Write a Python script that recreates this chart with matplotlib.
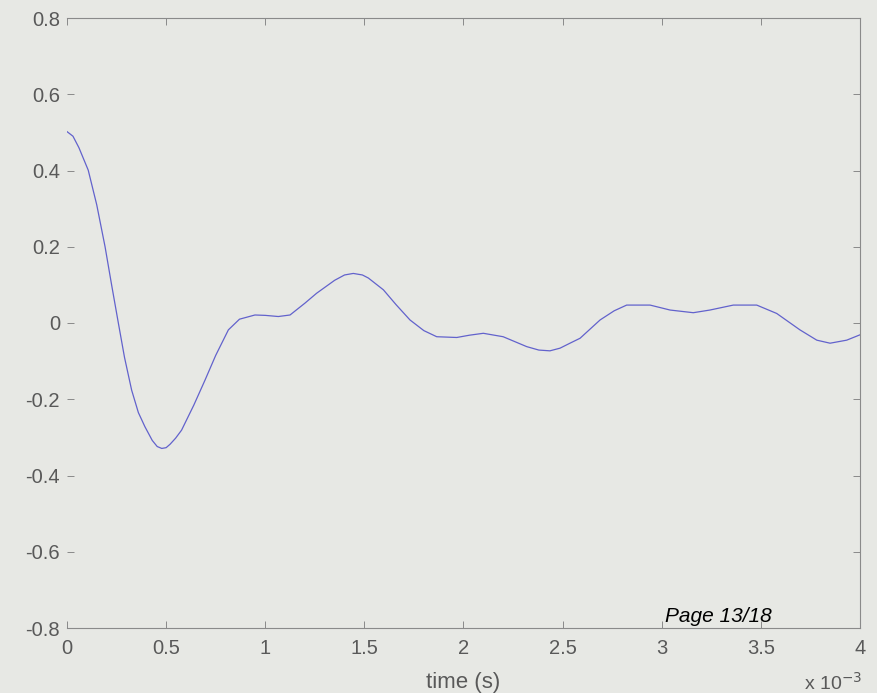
import numpy as np
import matplotlib.pyplot as plt

# time in ms (axis shows x 10^-3 s) and response values
time_ms = [0.0, 0.03, 0.06, 0.107, 0.15, 0.192, 0.225, 0.259, 0.29, 0.326, 0.36,
           0.393, 0.43, 0.455, 0.478, 0.50, 0.52, 0.548, 0.578, 0.64, 0.696, 0.75,
           0.814, 0.87, 0.948, 1.0, 1.066, 1.125, 1.2, 1.259, 1.35, 1.40, 1.444,
           1.49, 1.52, 1.596, 1.66, 1.73, 1.8, 1.865, 1.966, 2.03, 2.1, 2.2,
           2.319, 2.38, 2.436, 2.487, 2.537, 2.588, 2.689, 2.76, 2.823, 2.941,
           3.042, 3.159, 3.243, 3.361, 3.479, 3.58, 3.697, 3.782, 3.849, 3.933, 4.0]
response = [0.502, 0.49, 0.46, 0.401, 0.31, 0.2, 0.1, 0.0, -0.09, -0.176, -0.235,
            -0.272, -0.308, -0.324, -0.329, -0.327, -0.318, -0.302, -0.281, -0.215,
            -0.15, -0.085, -0.018, 0.01, 0.021, 0.02, 0.017, 0.021, 0.052, 0.078,
            0.112, 0.126, 0.130, 0.126, 0.118, 0.087, 0.048, 0.008, -0.02, -0.036,
            -0.038, -0.032, -0.027, -0.036, -0.062, -0.071, -0.073, -0.066, -0.053,
            -0.040, 0.008, 0.032, 0.047, 0.047, 0.034, 0.027, 0.034, 0.047, 0.047,
            0.025, -0.018, -0.045, -0.053, -0.045, -0.031]

x_ticks = [0, 0.5, 1, 1.5, 2, 2.5, 3, 3.5, 4]
x_labels = ['0', '0.5', '1', '1.5', '2', '2.5', '3', '3.5', '4']
y_ticks = [-0.8, -0.6, -0.4, -0.2, 0, 0.2, 0.4, 0.6, 0.8]
y_labels = ['-0.8', '-0.6', '-0.4', '-0.2', '0', '0.2', '0.4', '0.6', '0.8']

bg = '#e7e8e4'
plt.rcParams['font.family'] = ['Liberation Sans', 'DejaVu Sans']

fig = plt.figure(figsize=(8.78, 6.93), dpi=100, facecolor=bg)
ax = fig.add_axes([67 / 878, 1 - 628 / 693, 793 / 878, 610 / 693])
ax.set_facecolor(bg)

ax.plot(time_ms, response, color='#6262cc', linewidth=0.9)

ax.set_xlim(0, 4)
ax.set_ylim(-0.8, 0.8)
ax.set_xticks(x_ticks)
ax.set_xticklabels(x_labels)
ax.set_yticks(y_ticks)
ax.set_yticklabels(y_labels)

ax.tick_params(direction='in', length=5, width=0.7, color='#8a8a8a',
               labelcolor='#595959', labelsize=14.5, top=True, right=True)
ax.tick_params(axis='x', pad=8)
ax.tick_params(axis='y', pad=5)
for side in ['top', 'bottom', 'right']:
    ax.spines[side].set_color('#8a8a8a')
    ax.spines[side].set_linewidth(0.8)
ax.spines['left'].set_visible(False)

ax.set_xlabel('time (s)', fontsize=16, color='#595959', labelpad=10)

fig.text(804 / 878, 1 - 683 / 693, r'x 10$^{-3}$', fontsize=14, color='#595959',
         ha='left', va='center')
fig.text(665 / 878, 1 - 616 / 693, 'Page 13/18', fontsize=15, style='italic',
         color='black', ha='left', va='center')

fig.savefig('out.png', dpi=100, facecolor=bg)
